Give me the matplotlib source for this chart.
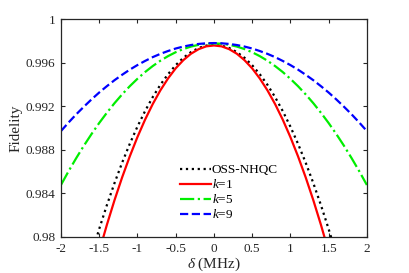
import matplotlib
matplotlib.use("Agg")
import matplotlib.pyplot as plt
import numpy as np

plt.rcParams['font.family'] = ['Liberation Serif', 'DejaVu Serif']
plt.rcParams['mathtext.fontset'] = 'custom'
plt.rcParams['mathtext.rm'] = 'Liberation Serif'
plt.rcParams['mathtext.it'] = 'Liberation Serif:italic'
plt.rcParams['axes.unicode_minus'] = False

# detuning (MHz)
delta = np.round(np.arange(-2.0, 2.0001, 0.1), 1)

fid_oss = [0.96757, 0.97050, 0.97329, 0.97592, 0.97840, 0.98073, 0.98291, 0.98494,
           0.98682, 0.98855, 0.99013, 0.99156, 0.99284, 0.99397, 0.99494, 0.99577,
           0.99645, 0.99697, 0.99735, 0.99757, 0.99765,
           0.99757, 0.99735, 0.99697, 0.99645, 0.99577, 0.99494, 0.99397, 0.99284,
           0.99156, 0.99013, 0.98855, 0.98682, 0.98494, 0.98291, 0.98073, 0.97840,
           0.97592, 0.97329, 0.97050, 0.96757]
fid_k1 = [0.96394, 0.96722, 0.97033, 0.97328, 0.97605, 0.97866, 0.98110, 0.98337,
          0.98547, 0.98740, 0.98917, 0.99077, 0.99220, 0.99346, 0.99455, 0.99548,
          0.99623, 0.99682, 0.99724, 0.99750, 0.99758,
          0.99750, 0.99724, 0.99682, 0.99623, 0.99548, 0.99455, 0.99346, 0.99220,
          0.99077, 0.98917, 0.98740, 0.98547, 0.98337, 0.98110, 0.97866, 0.97605,
          0.97328, 0.97033, 0.96722, 0.96394]
fid_k5 = [0.98477, 0.98604, 0.98724, 0.98838, 0.98945, 0.99046, 0.99140, 0.99228,
          0.99309, 0.99384, 0.99452, 0.99514, 0.99569, 0.99618, 0.99660, 0.99696,
          0.99725, 0.99748, 0.99764, 0.99774, 0.99777,
          0.99774, 0.99764, 0.99748, 0.99725, 0.99696, 0.99660, 0.99618, 0.99569,
          0.99514, 0.99452, 0.99384, 0.99309, 0.99228, 0.99140, 0.99046, 0.98945,
          0.98838, 0.98724, 0.98604, 0.98477]
fid_k9 = [0.98972, 0.99051, 0.99126, 0.99196, 0.99263, 0.99326, 0.99384, 0.99439,
          0.99489, 0.99536, 0.99578, 0.99616, 0.99651, 0.99681, 0.99707, 0.99730,
          0.99748, 0.99762, 0.99772, 0.99778, 0.99780,
          0.99778, 0.99772, 0.99762, 0.99748, 0.99730, 0.99707, 0.99681, 0.99651,
          0.99616, 0.99578, 0.99536, 0.99489, 0.99439, 0.99384, 0.99326, 0.99263,
          0.99196, 0.99126, 0.99051, 0.98972]

x_ticks = [-2, -1.5, -1, -0.5, 0, 0.5, 1, 1.5, 2]
x_labels = ["-2", "-1.5", "-1", "-0.5", "0", "0.5", "1", "1.5", "2"]
y_ticks = [0.98, 0.984, 0.988, 0.992, 0.996, 1.0]
y_labels = ["0.98", "0.984", "0.988", "0.992", "0.996", "1"]

fig = plt.figure(figsize=(4.09, 2.73), dpi=100)
ax = fig.add_axes([0.149, 0.132, 0.748, 0.798])

ax.plot(delta, fid_oss, color="black", linestyle=":", lw=1.6, label="OSS-NHQC")
ax.plot(delta, fid_k1, color="red", linestyle="-", lw=1.6, label="$k$=1")
ax.plot(delta, fid_k5, color="#00ee00", linestyle="-.", lw=1.6, label="$k$=5")
ax.plot(delta, fid_k9, color="blue", linestyle="--", lw=1.6, label="$k$=9")

ax.set_xlim(-2, 2)
ax.set_ylim(0.98, 1.0)
ax.set_xticks(x_ticks)
ax.set_xticklabels(x_labels)
ax.set_yticks(y_ticks)
ax.set_yticklabels(y_labels)

dark = "#262626"
for s in ax.spines.values():
    s.set_linewidth(0.9)
    s.set_color(dark)
ax.tick_params(direction="in", top=True, right=True, length=3, width=0.8,
               labelsize=9.5, colors=dark, pad=4)

ax.set_xlabel(r"$\delta$ (MHz)", fontsize=11, color=dark, labelpad=1)
ax.set_ylabel("Fidelity", fontsize=11, color=dark, labelpad=2)

ax.legend(loc="upper left", bbox_to_anchor=(0.39, 0.335), frameon=False,
          fontsize=9.5, handlelength=2.3, handletextpad=0.1, labelspacing=0.15,
          borderpad=0, borderaxespad=0)

fig.savefig("out.png", dpi=100)
